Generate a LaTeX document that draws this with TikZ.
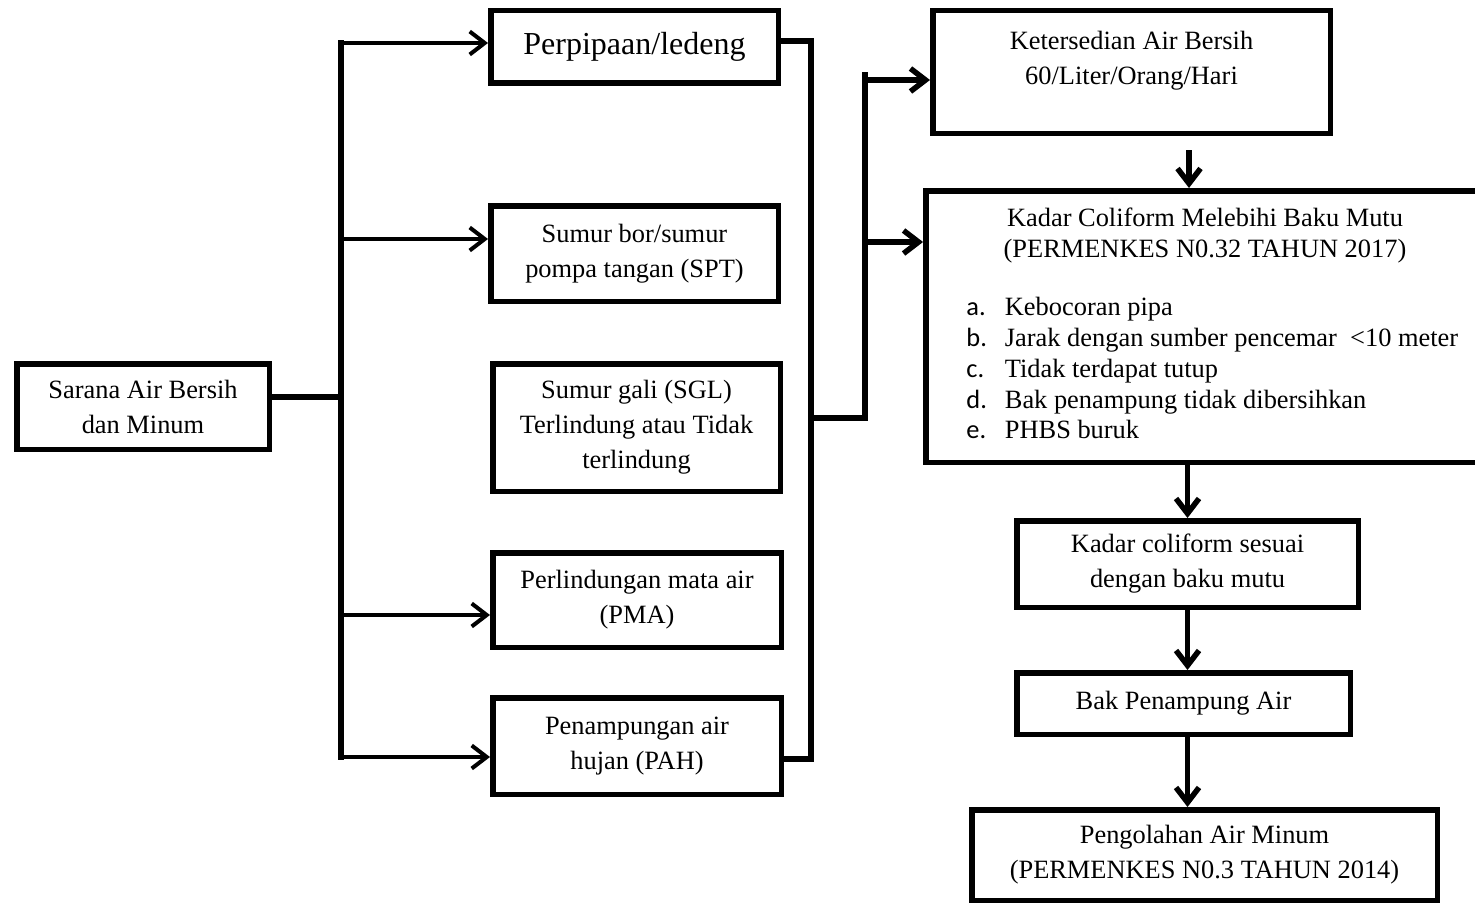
\documentclass[tikz,border=0pt]{standalone}
\usepackage{fontspec}
\setmainfont{Liberation Serif}
\newfontfamily\listfont{Carlito}
\usetikzlibrary{arrows.meta}

\tikzstyle{box} = [draw, line width=2.75pt, align=center, inner sep=0pt]
\tikzstyle{txt} = [text centered, inner sep=0pt, align=center]
\tikzstyle{wire} = [line width=2pt]
\tikzstyle{fatwire} = [line width=2.75pt]
\newcommand{\itemlbl}[1]{\makebox[19.25pt][l]{\listfont #1}}

\begin{document}
\begin{tikzpicture}[x=0.5pt, y=-0.5pt,
>={Straight Barb[length=7.5pt,width=11.5pt]},
font=\fontsize{13.2}{17.5}\selectfont,
]
\useasboundingbox (0,0) rectangle (1475,904);

%SOURCE
\node[box, minimum width=126.25pt, minimum height=42.75pt] (sarana) at (143,406.5) {Sarana Air Bersih\\dan Minum};

%TYPES
\node[box, minimum width=143.75pt, minimum height=36.25pt, font=\fontsize{16}{19}\selectfont] (pipa) at (634.5,47) {Perpipaan/ledeng};
\node[box, minimum width=143.75pt, minimum height=47.75pt] (bor) at (634.5,253.5) {Sumur bor/sumur\\pompa tangan (SPT)};
\node[box, minimum width=143.75pt, minimum height=63.75pt] (sgl) at (636.5,427.5) {Sumur gali (SGL)\\Terlindung atau Tidak\\terlindung};
\node[box, minimum width=144.25pt, minimum height=47.25pt] (pma) at (637,600) {Perlindungan mata air\\(PMA)};
\node[box, minimum width=144.25pt, minimum height=48.25pt] (pah) at (637,746) {Penampungan air\\hujan (PAH)};

%LEFT BUS
\coordinate (busL) at (341,397);
\coordinate (l1) at (341,43);
\coordinate (l2) at (341,239);
\coordinate (l3) at (341,615);
\coordinate (l4) at (341,757);
\draw[fatwire] (sarana.east |- busL) -- (busL);
\draw[fatwire, line cap=rect] (l1) -- (l4);
\draw[wire,->] (l1) -- (l1 -| pipa.west);
\draw[wire,->] (l2) -- (l2 -| bor.west);
\draw[wire,->] (l3) -- (l3 -| pma.west);
\draw[wire,->] (l4) -- (l4 -| pah.west);

%QUALITY
\node[box, minimum width=198.75pt, minimum height=61.25pt] (sedia) at (1131.5,72) {};
\node[txt] (sediatxt) at (1131.5,61) {Ketersedian Air Bersih\\60/Liter/Orang/Hari};

\node[box, minimum width=284.6pt, minimum height=135.75pt] (kadar) at (1210.4,326.5) {};
\node[txt, font=\fontsize{13.2}{15.5}\selectfont] (kadartxt) at (1205,236) {Kadar Coliform Melebihi Baku Mutu\\(PERMENKES N0.32 TAHUN 2017)};
\node[txt, anchor=north west, align=left, font=\fontsize{13.2}{15.4}\selectfont] (causes) at (966,297) {%
\itemlbl{a.}Kebocoran pipa\\
\itemlbl{b.}Jarak dengan sumber pencemar\ \ \textless10 meter\\
\itemlbl{c.}Tidak terdapat tutup\\
\itemlbl{d.}Bak penampung tidak dibersihkan\\
\itemlbl{e.}PHBS buruk};

\node[box, minimum width=170.75pt, minimum height=43.25pt] (sesuai) at (1187.5,564) {Kadar coliform sesuai\\dengan baku mutu};
\node[box, minimum width=166.75pt, minimum height=30.75pt] (bak) at (1183.5,703.5) {Bak Penampung Air};
\node[box, minimum width=232.75pt, minimum height=45.25pt] (olah) at (1204.5,855) {Pengolahan Air Minum\\(PERMENKES N0.3 TAHUN 2014)};

%RIGHT BUS
\coordinate (r1) at (811,41);
\coordinate (r2) at (811,759);
\coordinate (rmid) at (811,418);
\coordinate (c0) at (865,418);
\coordinate (c1) at (865,72);
\coordinate (c2) at (865,80);
\coordinate (c3) at (865,242);
\draw[fatwire] (pipa.east |- r1) -- (r1) -- (r2) -- (r2 -| pah.east);
\draw[fatwire] (rmid) -- (c0) -- (c1);
\draw[fatwire,->] (c2) -- (c2 -| sedia.west);
\draw[fatwire,->] (c3) -- (c3 -| kadar.west);

%DOWNWARD
\coordinate (d0) at (1189,150);
\draw[fatwire,->] (d0) -- (d0 |- kadar.north);
\draw[fatwire,->] (sesuai.north |- kadar.south) -- (sesuai.north);
\draw[fatwire,->] (sesuai.south) -- (sesuai.south |- bak.north);
\draw[fatwire,->] (sesuai.south |- bak.south) -- (sesuai.south |- olah.north);
\end{tikzpicture}
\end{document}
